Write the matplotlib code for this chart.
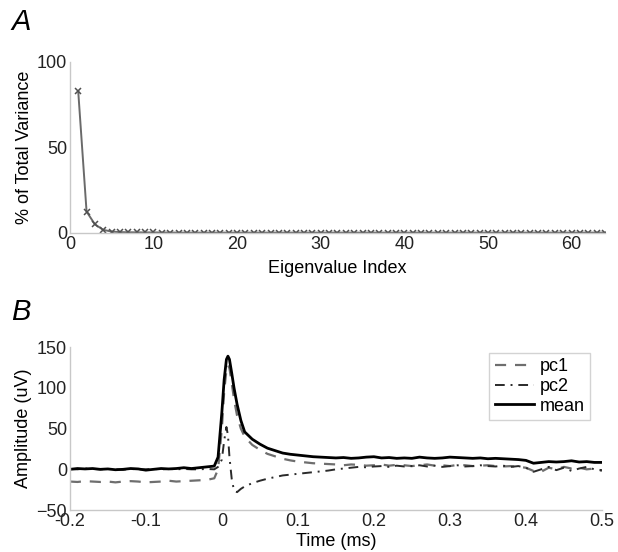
import numpy as np
import matplotlib
matplotlib.use('Agg')
import matplotlib.pyplot as plt

plt.rcParams['font.family'] = ['Liberation Sans', 'DejaVu Sans']

# Panel A: variance explained by each eigenvalue (%)
eig_index = list(range(1, 65))
var_pct = [83, 12.5, 5, 1.8, 0.8, 0.5, 0.4, 0.35, 0.3, 0.3,
           0.25, 0.25, 0.2, 0.2, 0.2, 0.2, 0.2, 0.2, 0.2, 0.2,
           0.2, 0.2, 0.2, 0.2, 0.2, 0.2, 0.2, 0.2, 0.2, 0.2,
           0.2, 0.2, 0.2, 0.2, 0.2, 0.2, 0.2, 0.2, 0.2, 0.2,
           0.2, 0.2, 0.2, 0.2, 0.2, 0.2, 0.2, 0.2, 0.2, 0.2,
           0.2, 0.2, 0.2, 0.2, 0.2, 0.2, 0.2, 0.2, 0.2, 0.2,
           0.2, 0.2, 0.2, 0.2]

# Panel B: waveforms
time_ms = [-0.20, -0.19, -0.18, -0.17, -0.16, -0.15, -0.14, -0.13, -0.12, -0.11,
           -0.10, -0.09, -0.08, -0.07, -0.06, -0.05, -0.04, -0.03, -0.02, -0.01,
           -0.005, 0.0, 0.003, 0.006, 0.008, 0.01, 0.013, 0.016, 0.02, 0.025, 0.03,
           0.04, 0.05, 0.06, 0.07, 0.08, 0.09, 0.10, 0.11, 0.12, 0.13,
           0.14, 0.15, 0.16, 0.17, 0.18, 0.19, 0.20, 0.21, 0.22, 0.23,
           0.24, 0.25, 0.26, 0.27, 0.28, 0.29, 0.30, 0.31, 0.32, 0.33,
           0.34, 0.35, 0.36, 0.37, 0.38, 0.39, 0.40, 0.41, 0.42, 0.43,
           0.44, 0.45, 0.46, 0.47, 0.48, 0.49, 0.50]

mean_uv = [0, 1, 0.5, 1, 0, 0.5, -0.5, 0, 1, 0.5,
           -1, 0, 1, 0.5, 1, 2, 1, 2, 3, 4,
           15, 70, 110, 135, 139, 135, 118, 100, 80, 60, 46,
           37, 31, 26, 23, 20, 18.5, 17.5, 16.5, 15.5, 15,
           14.5, 14, 14.5, 13.5, 14, 15, 15.5, 14, 14.5, 13.5,
           14, 13.5, 15, 14, 13.5, 14, 15, 14.5, 14, 13.5,
           14, 13, 13.5, 13, 12.5, 12, 11, 7.5, 8.5, 9.5,
           9, 9.5, 10.5, 9, 9.5, 8.5, 8.5]

pc1_uv = [-15, -15.5, -14.5, -15, -15.5, -15, -16, -15, -14.5, -15,
          -16, -15.5, -15, -14, -15, -14.5, -14, -13.5, -13, -11,
          0, 50, 95, 122, 128, 124, 106, 86, 66, 50, 40,
          30, 24, 19, 16, 13, 11, 9.5, 8.5, 7.5, 7,
          6.5, 6, 5, 6, 5.5, 4.5, 5, 6, 4.5, 5.5,
          5, 4, 5, 6, 4.5, 5, 4, 5.5, 5, 4,
          4.5, 5, 4, 3.5, 4, 3, 2, -2, -3, 2,
          0, 3, 1, 2, 0, 1, -2]

pc2_uv = [0.5, 0, 1, 0.5, 0, 0.5, 0, -0.5, 0.5, 0,
          0, 0.5, 0, 0.5, 0, 0.5, 0, 0, 0.5, 0,
          3, 12, 35, 52, 42, 15, -12, -26, -28, -24, -21,
          -17, -14, -11.5, -9.5, -7.5, -6.5, -5.5, -4.5, -3.5, -2.5,
          -1.5, 0, 1, 2, 3, 2.5, 3.5, 4, 3, 4.5,
          3.5, 4, 5, 3.5, 4.5, 3, 4, 5, 3.5, 4,
          5, 4, 3.5, 4.5, 3, 4, 2, -3, 0, 3,
          -1, 2, -2, 1, 3, 0, -1]

fig = plt.figure(figsize=(6.18, 5.52), dpi=100)

axis_col = '#c8c8c8'
fs = 13

def style_axes(ax):
    for side in ['top', 'right']:
        ax.spines[side].set_visible(False)
    for side in ['left', 'bottom']:
        ax.spines[side].set_color(axis_col)
        ax.spines[side].set_linewidth(1.0)
    ax.tick_params(length=0, labelsize=fs, pad=2, colors='#222222')

# ---- Panel A ----
axA = fig.add_axes([0.113, 0.578, 0.866, 0.310])
axA.plot(eig_index, var_pct, color='#6a6a6a', lw=1.4, marker='x', ms=4.5,
         mew=1.1, mec='#505050')
axA.set_xlim(0, 64)
axA.set_ylim(0, 100)
axA.set_xticks([0, 10, 20, 30, 40, 50, 60])
axA.set_yticks([0, 50, 100])
axA.set_xlabel('Eigenvalue Index', fontsize=fs, labelpad=5)
axA.set_ylabel('% of Total Variance', fontsize=fs, labelpad=3)
style_axes(axA)
fig.text(0.018, 0.96, 'A', fontsize=21, style='italic', va='center')

# ---- Panel B ----
axB = fig.add_axes([0.113, 0.076, 0.861, 0.295])
axB.plot(time_ms, pc1_uv, color='#6e6e6e', lw=1.6, ls=(0, (5, 4)), label='pc1')
axB.plot(time_ms, pc2_uv, color='#2a2a2a', lw=1.4, ls=(0, (5, 3, 1, 3)), label='pc2')
axB.plot(time_ms, mean_uv, color='black', lw=2.0, label='mean')
axB.set_xlim(-0.2, 0.5)
axB.set_ylim(-50, 150)
axB.set_xticks([-0.2, -0.1, 0, 0.1, 0.2, 0.3, 0.4, 0.5])
axB.set_xticklabels(['-0.2', '-0.1', '0', '0.1', '0.2', '0.3', '0.4', '0.5'])
axB.set_yticks([-50, 0, 50, 100, 150])
axB.set_xlabel('Time (ms)', fontsize=fs, labelpad=2)
axB.set_ylabel('Amplitude (uV)', fontsize=fs, labelpad=3)
style_axes(axB)
leg = axB.legend(loc='upper right', bbox_to_anchor=(0.995, 1.02), fontsize=13,
                 frameon=True, fancybox=False, handlelength=2.2,
                 handletextpad=0.3, borderpad=0.3, labelspacing=0.15)
leg.get_frame().set_edgecolor(axis_col)
leg.get_frame().set_linewidth(1.0)
fig.text(0.018, 0.435, 'B', fontsize=21, style='italic', va='center')

fig.savefig('out.png', dpi=100)
